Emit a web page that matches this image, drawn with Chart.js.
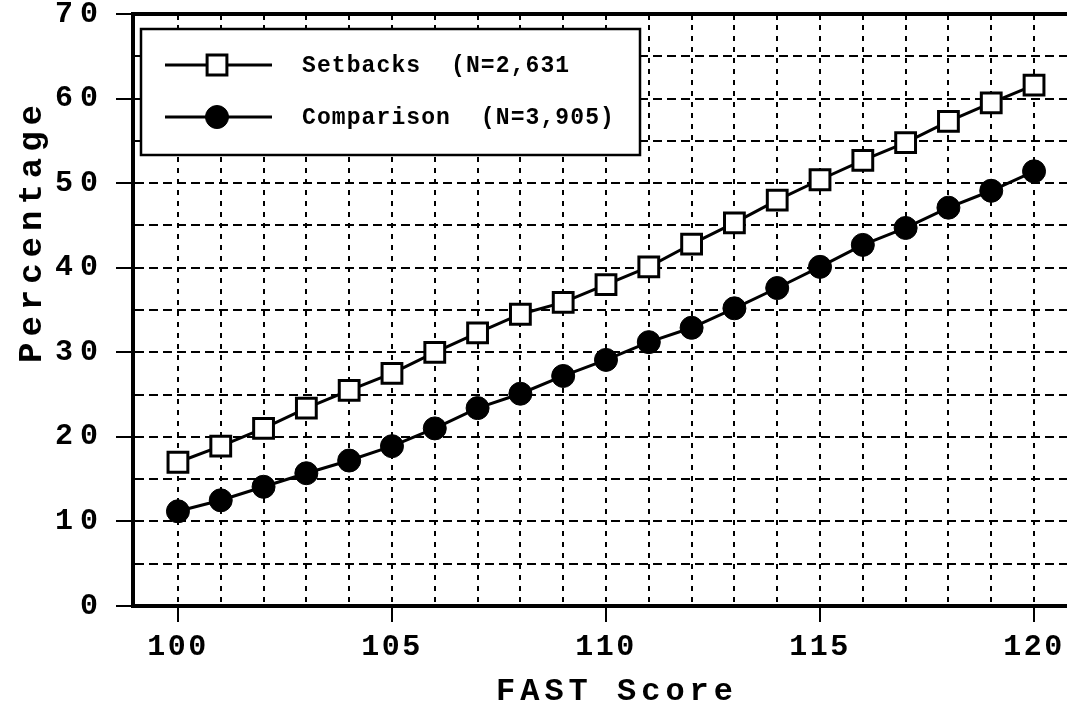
<!DOCTYPE html>
<html>
<head>
<meta charset="utf-8">
<script src="https://cdn.jsdelivr.net/npm/chart.js@4"></script>
<style>
  html, body { margin: 0; padding: 0; background: #fff; overflow: hidden; }
  #wrap { width: 1067px; height: 712px; }
</style>
</head>
<body>
<div id="wrap"><canvas id="fastChart"></canvas></div>
<script>
// FAST scores on the x axis
const scores = [100, 101, 102, 103, 104, 105, 106, 107, 108, 109, 110,
                111, 112, 113, 114, 115, 116, 117, 118, 119, 120];

// percentage at or above each score
const setbacks = [17.0, 18.9, 21.0, 23.4, 25.5, 27.5, 30.0, 32.3, 34.5, 35.9, 38.0,
                  40.1, 42.8, 45.3, 48.0, 50.4, 52.7, 54.8, 57.3, 59.5, 61.6];
const comparison = [11.2, 12.5, 14.1, 15.7, 17.2, 18.9, 21.0, 23.4, 25.1, 27.2, 29.1,
                    31.2, 32.9, 35.2, 37.6, 40.1, 42.7, 44.7, 47.1, 49.1, 51.4];

const seriesLabels = ['Setbacks  (N=2,631', 'Comparison  (N=3,905)'];
const xLabelEvery = 5;
const yLabelEvery = 10;
const xTitle = 'FAST Score';
const yTitle = 'Percentage';

const FONT = '"Courier New", "Liberation Mono", monospace';
const INK = '#000';

function toPoints(values) {
    return values.map((v, i) => ({ x: scores[i], y: v }));
}

// tick labels get their own letter spacing per axis
const tickSpacing = { x: '2.5px', y: '7px' };

const spacedTicks = {
    id: 'spacedTicks',
    beforeDraw(chart) {
        Object.keys(tickSpacing).forEach(id => {
            const scale = chart.scales[id];
            if (!scale || scale._spaced) return;
            const drawLabels = scale.drawLabels;
            scale.drawLabels = function (area) {
                this.ctx.save();
                this.ctx.letterSpacing = tickSpacing[id];
                drawLabels.call(this, area);
                this.ctx.restore();
            };
            scale._spaced = true;
        });
    }
};

// top frame line, small inner ticks, axis titles and the boxed legend
const frame = {
    id: 'frame',
    afterDraw(chart) {
        const { ctx, chartArea: area, scales: { x, y } } = chart;
        ctx.save();
        ctx.strokeStyle = INK;
        ctx.fillStyle = INK;

        // top border
        ctx.lineWidth = 4;
        ctx.beginPath();
        ctx.moveTo(area.left - 2, area.top);
        ctx.lineTo(area.right, area.top);
        ctx.stroke();

        // short ticks hanging from the top border and inside the left border
        ctx.lineWidth = 2;
        ctx.beginPath();
        scores.forEach(s => {
            const px = Math.round(x.getPixelForValue(s));
            ctx.moveTo(px, area.top);
            ctx.lineTo(px, area.top + 6);
        });
        for (let v = 5; v < 70; v += 10) {
            const py = Math.round(y.getPixelForValue(v));
            ctx.moveTo(area.left, py);
            ctx.lineTo(area.left + 6, py);
        }
        ctx.stroke();

        // axis titles
        ctx.font = 'bold 32px ' + FONT;
        ctx.textBaseline = 'alphabetic';
        ctx.textAlign = 'center';
        ctx.letterSpacing = '5px';
        ctx.fillText(xTitle, 617, 700);

        ctx.save();
        ctx.translate(41, 234);
        ctx.rotate(-Math.PI / 2);
        ctx.font = 'bold 34px ' + FONT;
        ctx.letterSpacing = '6px';
        ctx.fillText(yTitle, 3, 0);
        ctx.restore();

        // legend box
        const box = { left: 141, top: 29, right: 640, bottom: 155 };
        ctx.fillStyle = '#fff';
        ctx.fillRect(box.left, box.top, box.right - box.left, box.bottom - box.top);
        ctx.lineWidth = 2.5;
        ctx.strokeRect(box.left, box.top, box.right - box.left, box.bottom - box.top);

        ctx.font = 'bold 23px ' + FONT;
        ctx.textAlign = 'left';
        ctx.textBaseline = 'middle';
        ctx.letterSpacing = '1.1px';
        chart.data.datasets.forEach((ds, i) => {
            const rowY = 65 + i * 52;
            ctx.strokeStyle = ds.borderColor;
            ctx.lineWidth = ds.borderWidth;
            ctx.beginPath();
            ctx.moveTo(165, rowY);
            ctx.lineTo(272, rowY);
            ctx.stroke();
            ctx.fillStyle = ds.pointBackgroundColor;
            ctx.strokeStyle = ds.pointBorderColor;
            ctx.lineWidth = ds.pointBorderWidth;
            ctx.beginPath();
            if (ds.pointStyle === 'rect') {
                const h = ds.pointRadius * Math.SQRT1_2;
                ctx.rect(217 - h, rowY - h, 2 * h, 2 * h);
            } else {
                ctx.arc(217, rowY, ds.pointRadius, 0, Math.PI * 2);
            }
            ctx.fill();
            ctx.stroke();
            ctx.fillStyle = INK;
            ctx.fillText(ds.label, 302, rowY + 1);
        });
        ctx.restore();
    }
};

new Chart(document.getElementById('fastChart'), {
    type: 'line',
    data: {
        datasets: [
            {
                label: seriesLabels[0],
                data: toPoints(setbacks),
                borderColor: INK,
                borderWidth: 3,
                pointStyle: 'rect',
                pointRadius: 14,
                pointBackgroundColor: '#fff',
                pointBorderColor: INK,
                pointBorderWidth: 3,
                tension: 0
            },
            {
                label: seriesLabels[1],
                data: toPoints(comparison),
                borderColor: INK,
                borderWidth: 3,
                pointStyle: 'circle',
                pointRadius: 11.5,
                pointBackgroundColor: INK,
                pointBorderColor: INK,
                pointBorderWidth: 1,
                tension: 0
            }
        ]
    },
    options: {
        responsive: true,
        maintainAspectRatio: false,
        animation: false,
        events: [],
        layout: { autoPadding: false, padding: { top: 14, right: 0, bottom: 0, left: 0 } },
        plugins: {
            legend: { display: false },
            tooltip: { enabled: false }
        },
        scales: {
            x: {
                type: 'linear',
                min: 98.95,
                max: 120.77,
                afterBuildTicks: scale => {
                    scale.ticks = scores.map(v => ({ value: v }));
                },
                afterFit: scale => {
                    scale.height = 106;
                    scale.paddingLeft = 0;
                    scale.paddingRight = 0;
                },
                grid: {
                    color: INK,
                    lineWidth: 2,
                    tickLength: 16,
                    tickWidth: 2,
                    tickColor: ctx => ctx.tick && ctx.tick.value % xLabelEvery === 0 ? INK : 'transparent'
                },
                border: { display: true, color: INK, width: 4, dash: [5, 6] },
                ticks: {
                    autoSkip: false,
                    maxRotation: 0,
                    padding: 7,
                    color: INK,
                    font: { family: FONT, size: 30, weight: 'bold' },
                    callback: v => v % xLabelEvery === 0 ? String(v) : ''
                }
            },
            y: {
                min: 0,
                max: 70,
                afterFit: scale => {
                    scale.width = 133;
                    scale.paddingTop = 0;
                    scale.paddingBottom = 0;
                },
                grid: {
                    color: INK,
                    lineWidth: 2,
                    tickLength: 17,
                    tickWidth: 2,
                    tickColor: ctx => ctx.tick && ctx.tick.value % yLabelEvery === 0 ? INK : 'transparent'
                },
                border: { display: true, color: INK, width: 4, dash: [9, 5] },
                ticks: {
                    stepSize: 5,
                    padding: 11,
                    color: INK,
                    font: { family: FONT, size: 30, weight: 'bold' },
                    callback: v => v % yLabelEvery === 0 ? String(v) : ''
                }
            }
        }
    },
    plugins: [spacedTicks, frame]
});
</script>
</body>
</html>
